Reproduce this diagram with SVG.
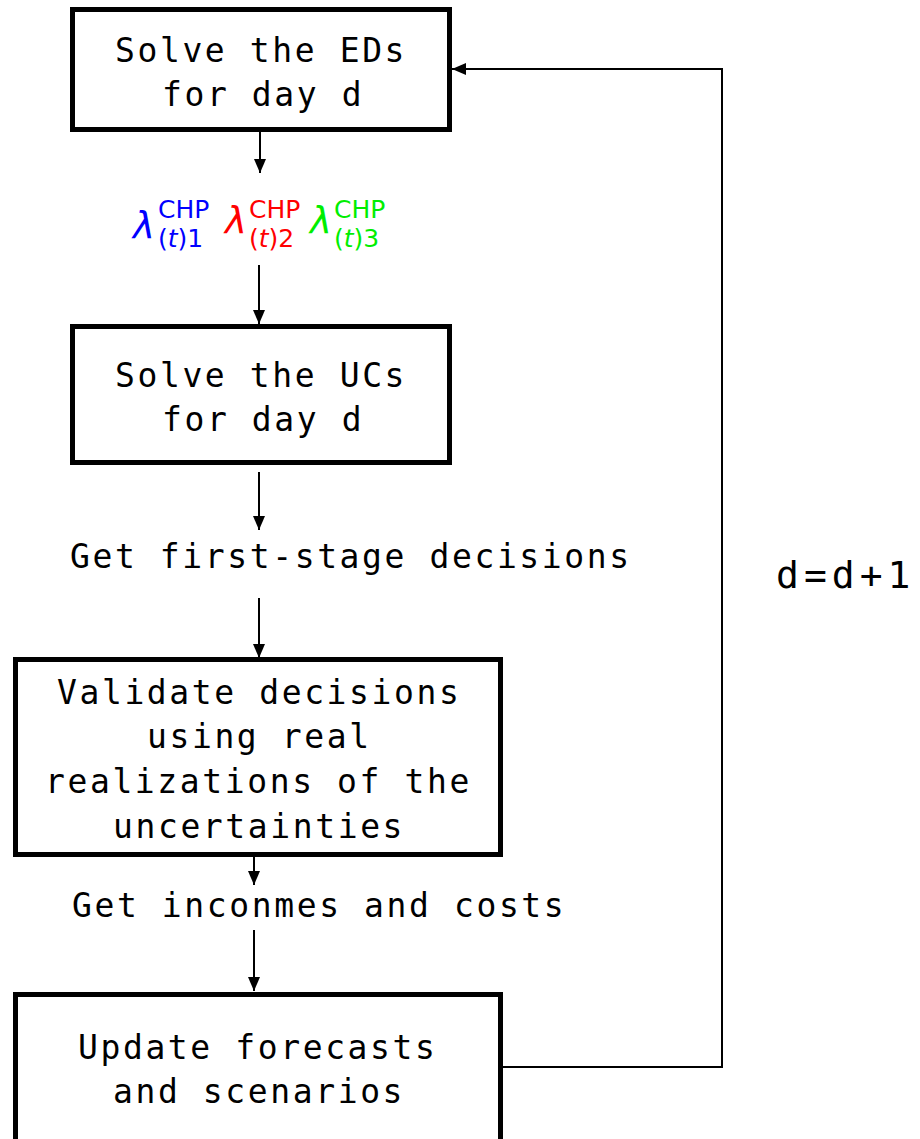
<svg xmlns="http://www.w3.org/2000/svg" width="920" height="1139" viewBox="0 0 920 1139">
  <style>
    .box { fill: #ffffff; stroke: #000000; stroke-width: 5; }
    .lbl { font-family: "DejaVu Sans Mono", "Liberation Mono", monospace; font-size: 33px; letter-spacing: 2.6px; fill: #000000; }
    .big { font-family: "DejaVu Sans Mono", "Liberation Mono", monospace; font-size: 38px; letter-spacing: 5px; fill: #000000; }
    .edge { fill: none; stroke: #000000; stroke-width: 2; }
    .lam { font-family: "DejaVu Sans", sans-serif; font-style: italic; font-size: 37px; font-weight: 300; }
    .sup { font-family: "DejaVu Sans", sans-serif; font-size: 25px; }
    .it { font-style: italic; }
  </style>
  <defs>
    <marker id="arrow" viewBox="0 0 14 12" refX="14" refY="6" markerWidth="14" markerHeight="12" markerUnits="userSpaceOnUse" orient="auto">
      <path d="M0,0 L14,6 L0,12 Z" fill="#000000"/>
    </marker>
  </defs>
  <rect width="920" height="1139" fill="#ffffff"/>

  <g id="connectors">
    <line class="edge" x1="260" y1="130" x2="260" y2="173" marker-end="url(#arrow)"/>
    <line class="edge" x1="259" y1="265" x2="259" y2="324" marker-end="url(#arrow)"/>
    <line class="edge" x1="259" y1="472" x2="259" y2="530" marker-end="url(#arrow)"/>
    <line class="edge" x1="259" y1="598" x2="259" y2="658" marker-end="url(#arrow)"/>
    <line class="edge" x1="254" y1="827" x2="254" y2="885" marker-end="url(#arrow)"/>
    <line class="edge" x1="254" y1="930" x2="254" y2="991" marker-end="url(#arrow)"/>
    <polyline class="edge" points="502,1067 722,1067 722,69 452,69" marker-end="url(#arrow)"/>
  </g>

  <g id="solve-eds">
    <rect class="box" x="72.5" y="9.5" width="377" height="120"/>
    <text class="lbl" x="115" y="62">Solve the EDs</text>
    <text class="lbl" x="162" y="106">for day d</text>
  </g>

  <g id="prices">
    <g fill="#0000ff">
      <text class="lam" x="133" y="238">λ</text>
      <text class="sup" x="158" y="218">CHP</text>
      <text class="sup" x="158" y="247">(<tspan class="it">t</tspan>)1</text>
    </g>
    <g fill="#ff0000">
      <text class="lam" x="225" y="233">λ</text>
      <text class="sup" x="249" y="218">CHP</text>
      <text class="sup" x="249" y="247">(<tspan class="it">t</tspan>)2</text>
    </g>
    <g fill="#00ee00">
      <text class="lam" x="310" y="233">λ</text>
      <text class="sup" x="334" y="218">CHP</text>
      <text class="sup" x="334" y="247">(<tspan class="it">t</tspan>)3</text>
    </g>
  </g>

  <g id="solve-ucs">
    <rect class="box" x="72.5" y="326.5" width="377" height="136"/>
    <text class="lbl" x="115" y="387">Solve the UCs</text>
    <text class="lbl" x="162" y="431">for day d</text>
  </g>

  <g id="first-stage">
    <text class="lbl" x="70" y="568">Get first-stage decisions</text>
  </g>

  <g id="validate">
    <rect class="box" x="15.5" y="659.5" width="485" height="195"/>
    <text class="lbl" x="57" y="704">Validate decisions</text>
    <text class="lbl" x="147" y="748">using real</text>
    <text class="lbl" x="45" y="793">realizations of the</text>
    <text class="lbl" x="113" y="838">uncertainties</text>
  </g>

  <g id="incomes">
    <text class="lbl" x="72" y="917">Get inconmes and costs</text>
  </g>

  <g id="update">
    <rect class="box" x="15.5" y="994.5" width="485" height="160"/>
    <text class="lbl" x="78" y="1059">Update forecasts</text>
    <text class="lbl" x="113" y="1103">and scenarios</text>
  </g>

  <g id="increment">
    <text class="big" x="776" y="588">d=d+1</text>
  </g>
</svg>
